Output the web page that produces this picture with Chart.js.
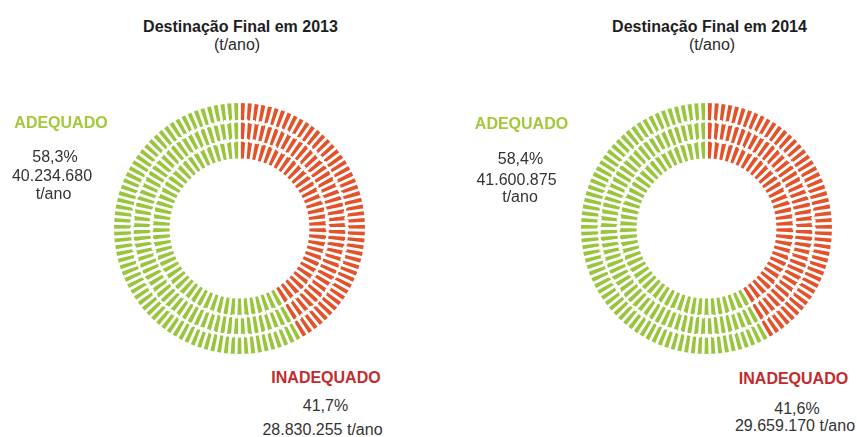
<!DOCTYPE html>
<html lang="pt-BR">
<head>
<meta charset="utf-8">
<script src="https://cdn.jsdelivr.net/npm/chart.js@4/dist/chart.umd.min.js"></script>
<style>
  html, body { margin: 0; padding: 0; background: #fff; }
  #stage { position: relative; width: 857px; height: 437px; overflow: hidden; background: #fff;
           font-family: "Liberation Sans", Arial, Helvetica, sans-serif; }
  canvas { position: absolute; }
  .t { position: absolute; width: 260px; text-align: center; font-size: 16px; line-height: 16px;
       white-space: nowrap; color: #333; }
  .title { font-weight: bold; color: #1e1e1e; }
  .sub { color: #2a2a2a; }
  .ok { font-weight: bold; color: #a3c83a; }
  .bad { font-weight: bold; color: #c42a2c; }
</style>
</head>
<body>
<div id="stage">
  <canvas id="c2013" width="281" height="281" style="left:99px;top:88px;width:281px;height:281px"></canvas>
  <canvas id="c2014" width="281" height="281" style="left:566px;top:88px;width:281px;height:281px"></canvas>
</div>
<script>
// Destinação final dos resíduos (t/ano)
const years = ['2013', '2014'];
const categories = ['INADEQUADO', 'ADEQUADO'];
const percent2013 = [41.7, 58.3];
const percent2014 = [41.6, 58.4];
const tonnes2013 = [28830255, 40234680];
const tonnes2014 = [29659170, 41600875];

const RED = '#e2532c';
const GREEN = '#98c53c';

const fmtPct = v => v.toFixed(1).replace('.', ',') + '%';
const fmtInt = v => String(v).replace(/\B(?=(\d{3})+(?!\d))/g, '.');

// Cuts each ring into short radial dashes and separates the rings
const tickCutter = {
  id: 'tickCutter',
  afterDatasetsDraw(chart, args, opts) {
    const ctx = chart.ctx;
    ctx.save();
    ctx.globalCompositeOperation = 'destination-out';
    ctx.strokeStyle = '#000';
    chart.data.datasets.forEach((ds, i) => {
      const arc = chart.getDatasetMeta(i).data[0];
      if (!arc) return;
      const { x, y, innerRadius: r0, outerRadius: r1 } = arc;
      ctx.lineWidth = opts.ringGap;
      [r0, r1].forEach(r => {
        ctx.beginPath();
        ctx.arc(x, y, r, 0, Math.PI * 2);
        ctx.stroke();
      });
      const mid = (r0 + r1) / 2;
      const n = Math.round(2 * Math.PI * mid / opts.pitch);
      ctx.lineWidth = opts.gap;
      ctx.beginPath();
      for (let k = 0; k < n; k++) {
        const a = -Math.PI / 2 + k * 2 * Math.PI / n;
        const c = Math.cos(a), s = Math.sin(a);
        ctx.moveTo(x + c * (r0 - 2), y + s * (r0 - 2));
        ctx.lineTo(x + c * (r1 + 2), y + s * (r1 + 2));
      }
      ctx.stroke();
    });
    ctx.restore();
  }
};

function ring(values) {
  return {
    data: values,
    backgroundColor: [RED, GREEN],
    borderWidth: 0,
    hoverOffset: 0
  };
}

function makeDonut(id, values) {
  return new Chart(document.getElementById(id), {
    type: 'doughnut',
    data: {
      labels: categories,
      datasets: [ring(values), ring(values), ring(values)]
    },
    options: {
      responsive: false,
      devicePixelRatio: 1,
      animation: false,
      events: [],
      radius: 126.5,
      cutout: '54.5%',
      rotation: 0,
      layout: { padding: 0 },
      plugins: {
        legend: { display: false },
        tooltip: { enabled: false },
        title: { display: false },
        tickCutter: { pitch: 6.4, gap: 2.8, ringGap: 2 }
      }
    },
    plugins: [tickCutter]
  });
}

makeDonut('c2013', percent2013);
makeDonut('c2014', percent2014);

// Text labels
const stage = document.getElementById('stage');
function label(text, cls, cx, top) {
  const d = document.createElement('div');
  d.className = 't ' + cls;
  d.textContent = text;
  d.style.left = (cx - 130) + 'px';
  d.style.top = top + 'px';
  stage.appendChild(d);
}

// 2013
label('Destinação Final em ' + years[0], 'title', 240.5, 19);
label('(t/ano)', 'sub', 237, 36.5);
label(categories[1], 'ok', 61, 114.5);
label(fmtPct(percent2013[1]), '', 55, 148.5);
label(fmtInt(tonnes2013[1]), '', 52, 168);
label('t/ano', '', 53.5, 185.5);
label(categories[0], 'bad', 326, 370);
label(fmtPct(percent2013[0]), '', 325.5, 398);
label(fmtInt(tonnes2013[0]) + ' t/ano', '', 322.5, 422);

// 2014
label('Destinação Final em ' + years[1], 'title', 709.5, 19);
label('(t/ano)', 'sub', 712, 36.5);
label(categories[1], 'ok', 521.5, 115.5);
label(fmtPct(percent2014[1]), '', 520.5, 150.5);
label(fmtInt(tonnes2014[1]), '', 516.5, 172);
label('t/ano', '', 520, 189);
label(categories[0], 'bad', 793.5, 371);
label(fmtPct(percent2014[0]), '', 797, 401);
label(fmtInt(tonnes2014[0]) + ' t/ano', '', 795, 418);
</script>
</body>
</html>
